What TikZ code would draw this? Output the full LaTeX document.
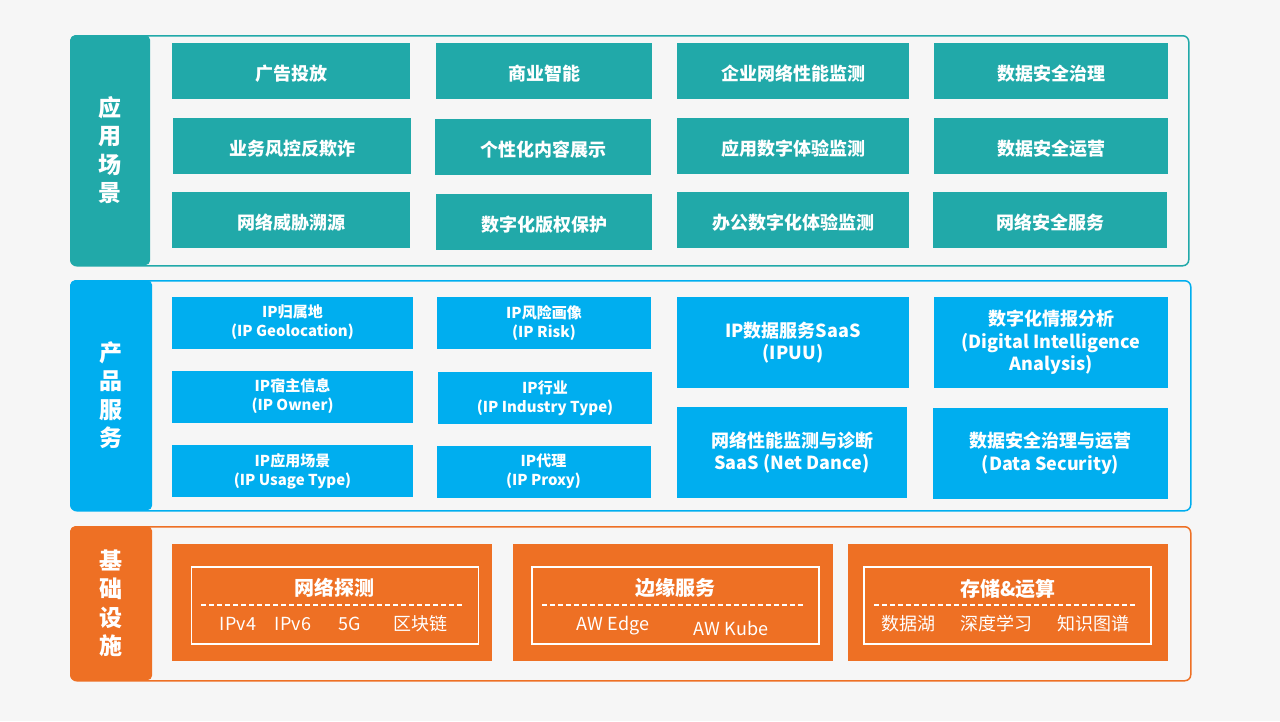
\documentclass[tikz,border=0pt]{standalone}
\usepackage{fontspec}
\setmainfont{Noto Sans CJK SC}
\usepackage{tikz}
\usetikzlibrary{positioning, calc}
\definecolor{bgc}{HTML}{F6F6F6}
\definecolor{appc}{HTML}{21A9A9}
\definecolor{prodc}{HTML}{00AEEF}
\definecolor{infc}{HTML}{EE7024}
\newcommand{\lowtxt}[1]{\raisebox{-2.5pt}[\height][\depth]{#1}}

\begin{document}
\begin{tikzpicture}[
  x=1pt, y=-1pt,
  frame/.style={draw, line width=1.5pt, rounded corners=6pt, anchor=north west, inner sep=0pt},
  side/.style={rounded corners=5pt, anchor=north west, align=center, text=white, inner sep=0pt,
    font=\bfseries\fontsize{23}{28.5}\selectfont},
  appbox/.style={fill=appc, text=white, minimum height=56pt, inner sep=0pt, font=\bfseries\fontsize{18}{22}\selectfont},
  prodbox/.style={fill=prodc, text=white, minimum height=52pt, inner sep=0pt, align=center, font=\bfseries\fontsize{15}{19}\selectfont},
  bigbox/.style={prodbox, minimum height=91pt, font=\bfseries\fontsize{18}{22.5}\selectfont},
  infbox/.style={fill=infc, minimum width=320pt, minimum height=117pt, inner sep=0pt},
  inner/.style={draw=white, line width=1.5pt, minimum width=287pt, minimum height=77pt, inner sep=0pt},
  inftitle/.style={text=white, font=\bfseries\fontsize{20}{24}\selectfont},
  infitem/.style={text=white, font=\fontsize{18}{22}\selectfont},
  sep/.style={draw=white, line width=1.2pt, dash pattern=on 5pt off 3pt}
]
\useasboundingbox[fill=bgc] (0,0) rectangle (1280,721);

% ---- 应用场景 ----
\node[frame, draw=appc, minimum width=1118pt, minimum height=230pt] (app-frame) at (70,35) {};
\node[side, fill=appc, minimum width=80pt, minimum height=230pt] (app-side) at (70,35) {应\\用\\场\\景};

\node[appbox, minimum width=238pt] (app-11) at (291,71)  {\lowtxt{广告投放}};
\node[appbox, minimum width=216pt] (app-12) at (544,71)  {\lowtxt{商业智能}};
\node[appbox, minimum width=232pt] (app-13) at (793,71)  {\lowtxt{企业网络性能监测}};
\node[appbox, minimum width=234pt] (app-14) at (1051,71) {\lowtxt{数据安全治理}};
\node[appbox, minimum width=238pt] (app-21) at (292,146) {\lowtxt{业务风控反欺诈}};
\node[appbox, minimum width=216pt] (app-22) at (543,147) {\lowtxt{个性化内容展示}};
\node[appbox, minimum width=232pt] (app-23) at (793,146) {\lowtxt{应用数字体验监测}};
\node[appbox, minimum width=234pt] (app-24) at (1051,146) {\lowtxt{数据安全运营}};
\node[appbox, minimum width=238pt] (app-31) at (291,220) {\lowtxt{网络威胁溯源}};
\node[appbox, minimum width=216pt] (app-32) at (544,222) {\lowtxt{数字化版权保护}};
\node[appbox, minimum width=232pt] (app-33) at (793,220) {\lowtxt{办公数字化体验监测}};
\node[appbox, minimum width=234pt] (app-34) at (1050,220) {\lowtxt{网络安全服务}};

% ---- 产品服务 ----
\node[frame, draw=prodc, minimum width=1120pt, minimum height=230pt] (prod-frame) at (70,280) {};
\node[side, fill=prodc, minimum width=82pt, minimum height=230pt] (prod-side) at (70,280) {产\\品\\服\\务};

\node[prodbox, minimum width=241pt] (prod-geo)   at (292.5,322.5) {IP归属地\\(IP Geolocation)};
\node[prodbox, minimum width=241pt] (prod-owner) at (292.5,396.5) {IP宿主信息\\(IP Owner)};
\node[prodbox, minimum width=241pt] (prod-usage) at (292.5,471)   {IP应用场景\\(IP Usage Type)};
\node[prodbox, minimum width=214pt] (prod-risk)  at (544,323)     {IP风险画像\\(IP Risk)};
\node[prodbox, minimum width=214pt] (prod-ind)   at (545,398)     {IP行业\\(IP Industry Type)};
\node[prodbox, minimum width=214pt] (prod-proxy) at (543.5,471.5) {IP代理\\(IP Proxy)};
\node[bigbox, minimum width=232pt] (prod-ipuu)  at (793,342.5)  {IP数据服务SaaS\\(IPUU)};
\node[bigbox, minimum width=230pt] (prod-net)   at (792,452.5)  {网络性能监测与诊断\\SaaS (Net Dance)};
\node[bigbox, minimum width=234pt] (prod-dia)   at (1051,342.5) {数字化情报分析\\(Digital Intelligence\\Analysis)};
\node[bigbox, minimum width=235pt] (prod-sec)   at (1050.5,453) {数据安全治理与运营\\(Data Security)};

% ---- 基础设施 ----
\node[frame, draw=infc, minimum width=1120pt, minimum height=154pt] (inf-frame) at (70,526) {};
\node[side, fill=infc, minimum width=82pt, minimum height=154pt] (inf-side) at (70,526) {基\\础\\设\\施};

\node[infbox] (inf-net)  at (332,602.5)  {};
\node[infbox] (inf-edge) at (673,602.5)  {};
\node[infbox] (inf-calc) at (1008,602.5) {};
\node[inner] (net-in)  at (335,605.5)  {};
\node[inner] (edge-in) at (675.5,605.5) {};
\node[inner] (calc-in) at (1007.5,605.5) {};

\node[inftitle] (net-t)  at (334,588)  {网络探测};
\node[inftitle] (edge-t) at (675,588)  {边缘服务};
\node[inftitle] (calc-t) at (1008,589) {存储\&运算};

\draw[sep] (201,605) -- (463,605);
\draw[sep] (542,605) -- (803,605);
\draw[sep] (874,605) -- (1136,605);

\node[infitem] (net-v4)  at (238,624) {IPv4};
\node[infitem] (net-v6)  at (293,624) {IPv6};
\node[infitem] (net-5g)  at (350,624) {5G};
\node[infitem] (net-bc)  at (420,624) {区块链};
\node[infitem] (edge-ae) at (613,626) {AW Edge};
\node[infitem] (edge-ak) at (731,628) {AW Kube};
\node[infitem] (calc-dl) at (908,624)  {数据湖};
\node[infitem] (calc-ml) at (996,624)  {深度学习};
\node[infitem] (calc-kg) at (1093,624) {知识图谱};

\end{tikzpicture}
\end{document}
